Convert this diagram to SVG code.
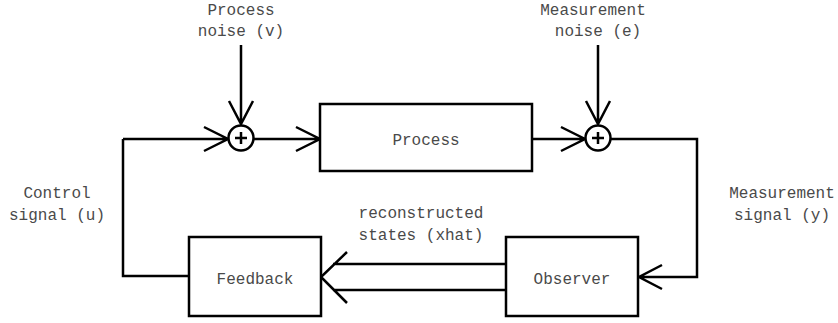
<svg xmlns="http://www.w3.org/2000/svg" width="838" height="323" viewBox="0 0 838 323">
<style>
.box{fill:#fff;stroke:#000;stroke-width:2.5}
.ln{fill:none;stroke:#000;stroke-width:2.5;stroke-linejoin:miter}
.t{font-family:"Liberation Mono","Courier New",monospace;font-size:16px;fill:#4a4a4a;text-anchor:middle}
</style>
<rect width="838" height="323" fill="#fff"/>
<g id="connectors">
<path class="ln" d="M241 45 V124 M229 101 L241 124 L253 101"/>
<path class="ln" d="M598 45 V124 M586 101 L598 124 L610 101"/>
<path class="ln" d="M123 139 H228 M204 127 L228 139 L204 151"/>
<path class="ln" d="M254 139 H320 M296 127 L320 139 L296 151"/>
<path class="ln" d="M532 139 H585 M561 127 L585 139 L561 151"/>
<path class="ln" d="M611 139 H697 V277 H639 M662 265 L639 277 L662 289"/>
<path class="ln" d="M189 276 H123 V139"/>
<path class="ln" d="M333 264 H506 M333 290 H506 M347 252 L321 277 L347 303"/>
</g>
<g id="sum1">
<circle cx="241" cy="138" r="12.5" class="box"/>
<path class="ln" d="M241 132 V144 M235 138 H247"/>
</g>
<g id="sum2">
<circle cx="598" cy="138" r="12.5" class="box"/>
<path class="ln" d="M598 132 V144 M592 138 H604"/>
</g>
<g id="process">
<rect class="box" x="320" y="104" width="212" height="67"/>
<text class="t" x="426" y="145">Process</text>
</g>
<g id="feedback">
<rect class="box" x="189" y="237" width="132" height="79"/>
<text class="t" x="255" y="284">Feedback</text>
</g>
<g id="observer">
<rect class="box" x="506" y="237" width="132" height="79"/>
<text class="t" x="572" y="284">Observer</text>
</g>
<g id="labels">
<text class="t" x="241" y="15">Process</text>
<text class="t" x="241" y="36">noise (v)</text>
<text class="t" x="593" y="15">Measurement</text>
<text class="t" x="598" y="36">noise (e)</text>
<text class="t" x="57" y="198">Control</text>
<text class="t" x="57" y="220">signal (u)</text>
<text class="t" x="782" y="198">Measurement</text>
<text class="t" x="782" y="220">signal (y)</text>
<text class="t" x="421" y="218">reconstructed</text>
<text class="t" x="421" y="240">states (xhat)</text>
</g>
</svg>
